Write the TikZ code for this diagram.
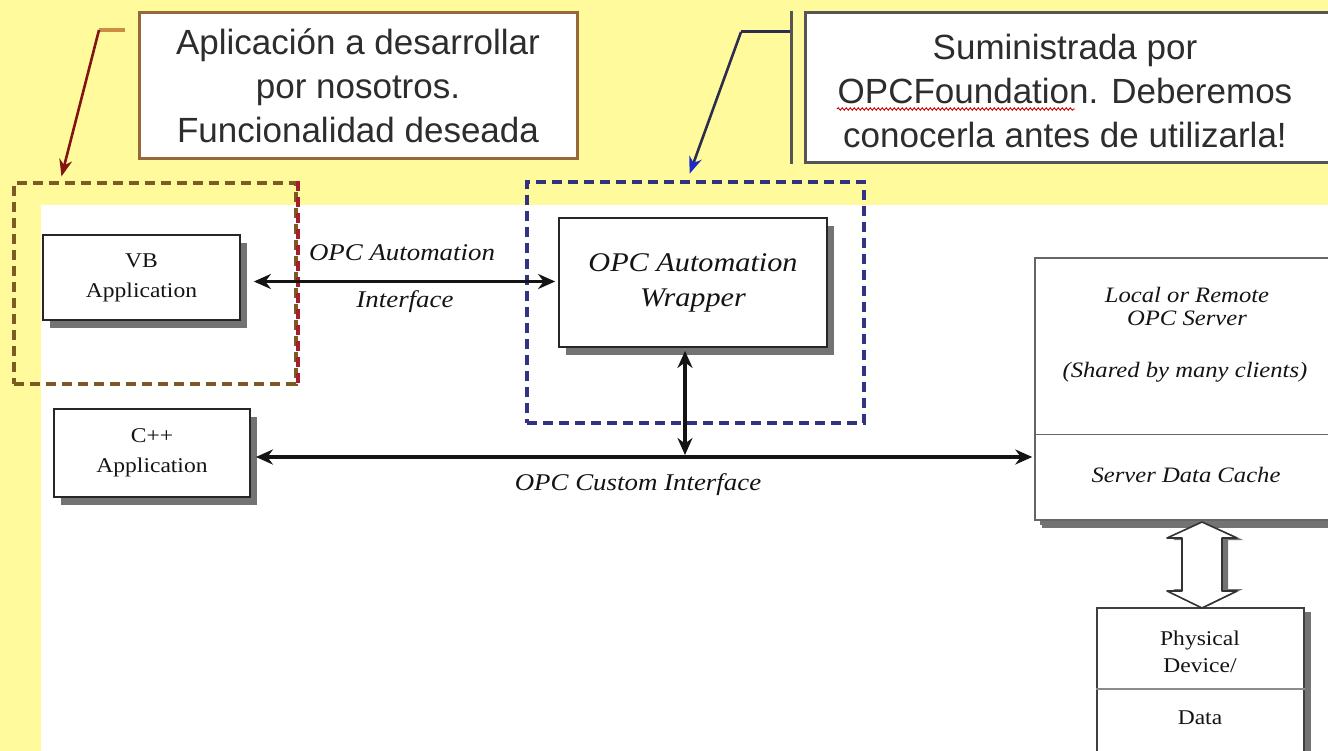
\documentclass[tikz,border=0pt]{standalone}
\usepackage{fontspec}
\setmainfont{Liberation Serif}
\newfontfamily\notefont{Liberation Sans}
\newfontfamily\dgfont[FakeStretch=1.12]{Liberation Serif}
\usetikzlibrary{arrows.meta,shadows,decorations.pathmorphing}

\definecolor{bgyellow}{RGB}{255,250,155}
\definecolor{notebrown}{RGB}{150,105,60}
\definecolor{leadred}{RGB}{130,20,20}
\definecolor{stubtan}{RGB}{205,140,70}
\definecolor{dashbrown}{RGB}{125,90,35}
\definecolor{dashred}{RGB}{165,30,45}
\definecolor{dashnavy}{RGB}{50,50,130}
\definecolor{shadowgray}{RGB}{115,115,115}
\definecolor{notegray}{RGB}{85,85,85}
\definecolor{leadnavy}{RGB}{45,45,80}
\definecolor{leadblue}{RGB}{30,40,200}
\definecolor{textgray}{RGB}{45,45,45}
\definecolor{inkblack}{RGB}{20,20,20}

\begin{document}
\begin{tikzpicture}[x=1pt,y=-1pt,
  notebox/.style={draw=#1, line width=3pt, fill=white, text=textgray,
    align=center, inner sep=0pt,
    font=\notefont\fontsize{35}{44}\selectfont},
  notetext/.style={text=textgray, align=center, inner sep=0pt,
    font=\notefont\fontsize{35}{44}\selectfont},
  appbox/.style={draw=black!85, line width=1.8pt, fill=white, align=center,
    inner sep=0pt, text=inkblack,
    drop shadow={shadow xshift=7pt, shadow yshift=-8pt, fill=shadowgray, opacity=1}},
  grouping/.style={draw=#1, line width=3.5pt, dash pattern=on 10pt off 6pt,
    inner sep=0pt},
  lbl/.style={inner sep=0pt, align=center, text=inkblack,
    font=\dgfont\itshape\fontsize{24}{30}\selectfont},
  srvtext/.style={inner sep=0pt, align=center, text=inkblack,
    font=\dgfont\itshape\fontsize{22}{23}\selectfont},
  dbl/.style={arrows={Stealth[length=17pt,width=15pt]-Stealth[length=17pt,width=15pt]},
    line width=3.4pt, draw=inkblack},
]
\useasboundingbox (0,0) rectangle (1328,751);
\clip (0,0) rectangle (1328,751);

% page background and the white drawing area
\fill[bgyellow] (0,0) rectangle (1328,751);
\fill[white] (41,205) rectangle (1328,751);

% grouping frames
\node[grouping=dashbrown, minimum width=282pt, minimum height=201pt] (own) at (155,283.5) {};
\draw[dashred, line width=3.5pt, dash pattern=on 10pt off 6pt] (own.north east) -- (own.south east);
\node[grouping=dashnavy, minimum width=337pt, minimum height=241pt] (lib) at (695.5,302.5) {};

% application boxes
\node[appbox, minimum width=197pt, minimum height=85pt,
  font=\dgfont\fontsize{21}{30}\selectfont] (vb) at (141.5,277.5) {VB\\Application};
\node[appbox, minimum width=196pt, minimum height=88pt,
  font=\dgfont\fontsize{21}{30}\selectfont] (cpp) at (152,453) {C++\\Application};
\node[appbox, minimum width=268pt, minimum height=129pt,
  font=\dgfont\itshape\fontsize{27}{35}\selectfont] (wrap) at (693,282.5) {OPC Automation\\Wrapper};

% OPC server
\node[appbox, draw=black!60, line width=1.5pt,
  drop shadow={shadow xshift=5pt, shadow yshift=-5pt, fill=shadowgray, opacity=1},
  minimum width=325pt, minimum height=262pt] (srv) at (1197.5,389) {};
\draw[black!60, line width=1.5pt] ([yshift=-177pt]srv.north west) -- ([yshift=-177pt]srv.north east);
\node[srvtext] (srvname) at (1187,306.5) {Local or Remote\\OPC Server};
\node[srvtext] (srvshared) at (1185,372) {(Shared by many clients)};
\node[srvtext] (srvcache) at (1186,475) {Server Data Cache};

% physical device
\node[appbox, draw=black!75, line width=1.6pt,
  drop shadow={shadow xshift=7pt, shadow yshift=-4pt, fill=shadowgray, opacity=1},
  minimum width=207pt, minimum height=162pt] (phys) at (1200.5,689) {};
\draw[black!45, line width=2pt] ([yshift=-82pt]phys.north west) -- ([yshift=-82pt]phys.north east);
\node[inner sep=0pt, align=center, text=inkblack, font=\dgfont\fontsize{21}{27}\selectfont]
  (physname) at (1200,651.5) {Physical\\Device/};
\node[inner sep=0pt, text=inkblack, font=\dgfont\fontsize{21}{27}\selectfont]
  (physdata) at (1200,718) {Data};

% hollow two-way arrow between cache and device
\fill[shadowgray] (1208,524) -- (1173,540) -- (1188,540) -- (1188,589) -- (1173,589)
  -- (1208,606) -- (1243,589) -- (1228,589) -- (1228,540) -- (1243,540) -- cycle;
\draw[black!80, line width=1.6pt, fill=white, line join=round]
  (1202,522) -- (1167,538) -- (1182,538) -- (1182,591) -- (1167,591)
  -- (1202,608) -- (1237,591) -- (1222,591) -- (1222,538) -- (1237,538) -- cycle;

% interfaces
\draw[dbl] ([xshift=13pt,yshift=-4pt]vb.east) coordinate (autol) -- ([xshift=-3pt]autol -| wrap.west);
\node[lbl] (autolbl) at (402,253) {OPC Automation};
\node[lbl] (autolbl2) at (405,302) {Interface};
\draw[dbl] ([xshift=5pt,yshift=-4pt]cpp.east) coordinate (custl) -- ([xshift=-2pt]custl -| srv.west);
\draw[dbl] ([xshift=-8pt,yshift=-3pt]wrap.south) coordinate (wrapl) -- ([yshift=2pt]wrapl |- custl);
\node[lbl] (custlbl) at (638,485) {OPC Custom Interface};

% note on the application
\node[notebox=notebrown, minimum width=438pt, minimum height=146pt] (note1) at (358,86)
  {Aplicación a desarrollar\\por nosotros.\\Funcionalidad deseada};
\coordinate (k1) at (99,30);
\draw[stubtan, line width=3.2pt] (k1) -- (125,30);
\draw[leadred, line width=2.6pt, shorten >=5pt,
  -{Stealth[length=17pt,width=13pt]}] (k1) -- ([xshift=48pt]own.north west);

% note on the wrapper
\node[notebox=notegray, minimum width=540pt, minimum height=150pt] (note2) at (1075,88) {};
\draw[notegray, line width=2.6pt] ([xshift=-12pt]note2.north west) -- ([xshift=-12pt]note2.south west);
\node[notetext] (note2txt) at (1065,91)
  {Suministrada por\\OPCFoundation. Deberemos\\conocerla antes de utilizarla!};
\draw[red!80!black, line width=0.9pt, decorate,
  decoration={snake, amplitude=1.2pt, segment length=4pt}] (837,109) -- (1075,109);
\coordinate (k2) at (741,32);
\draw[leadnavy, line width=3pt] (k2) -- (790,32);
\draw[leadnavy, line width=2.6pt, shorten >=7pt,
  -{Stealth[length=17pt,width=13pt,color=leadblue]}] (k2) -- ([xshift=162pt]lib.north west);
\end{tikzpicture}
\end{document}
